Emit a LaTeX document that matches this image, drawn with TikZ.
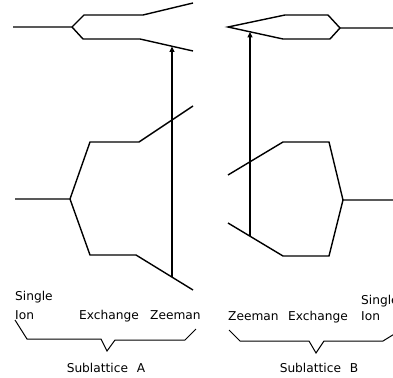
\documentclass[tikz,border=0pt]{standalone}
\usepackage{fontspec}
\setmainfont{DejaVu Sans}
\usetikzlibrary{arrows.meta}
\begin{document}
\begin{tikzpicture}[x=1pt,y=-1pt,
  level/.style={line width=1.4pt, line join=miter},
  transition/.style={line width=1.1pt, -{Triangle[length=5.5pt,width=5pt]}},
  bracket/.style={line width=1pt, line join=miter},
  lbl/.style={anchor=base west, inner sep=0pt, font=\fontsize{12.2}{14}\selectfont},
  sub/.style={anchor=base, inner sep=0pt, font=\fontsize{12.2}{14}\selectfont}]
\useasboundingbox (0,0) rectangle (393,377);
\clip (0,0) rectangle (393,377);

% ---- Sublattice A: upper multiplet
\coordinate (a0) at (13,27);
\coordinate (a1) at (72,27);
\coordinate (a2) at (84,15);
\coordinate (a3) at (143,15);
\coordinate (a4) at (193,3);
\coordinate (a5) at (83,39);
\coordinate (a6) at (140,39);
\coordinate (a7) at (193,51);
\draw[level] (a0) -- (a1) -- (a2) -- (a3) -- (a4);
\draw[level] (a1) -- (a5) -- (a6) -- (a7);

% ---- Sublattice A: lower multiplet
\coordinate (b0) at (15,199);
\coordinate (b1) at (70,199);
\coordinate (b2) at (90,142);
\coordinate (b3) at (139,142);
\coordinate (b4) at (193,106);
\coordinate (b5) at (90,255);
\coordinate (b6) at (136,255);
\coordinate (b7) at (193,290);
\draw[level] (b0) -- (b1) -- (b2) -- (b3) -- (b4);
\draw[level] (b1) -- (b5) -- (b6) -- (b7);

% transition on sublattice A
\coordinate (ta0) at (172,276.5);
\coordinate (ta1) at (172,46.5);
\draw[transition] (ta0) -- (ta1);

% ---- Sublattice B: upper multiplet
\coordinate (c0) at (395,28);
\coordinate (c1) at (340,28);
\coordinate (c2) at (328,15);
\coordinate (c3) at (285,15);
\coordinate (c4) at (228,27);
\coordinate (c5) at (330,39);
\coordinate (c6) at (283,39);
\draw[level] (c0) -- (c1) -- (c2) -- (c3) -- (c4) -- (c6) -- (c5) -- (c1);

% ---- Sublattice B: lower multiplet
\coordinate (d0) at (395,200);
\coordinate (d1) at (343,200);
\coordinate (d2) at (329,142);
\coordinate (d3) at (283,142);
\coordinate (d4) at (228,175);
\coordinate (d5) at (329,256);
\coordinate (d6) at (283,256);
\coordinate (d7) at (228,223);
\draw[level] (d0) -- (d1) -- (d2) -- (d3) -- (d4);
\draw[level] (d1) -- (d5) -- (d6) -- (d7);

% transition on sublattice B
\coordinate (tb0) at (250,236.2);
\coordinate (tb1) at (250,32);
\draw[transition] (tb0) -- (tb1);

% ---- interaction labels
\node[lbl] (sA) at (15,300) {Single};
\node[lbl] (iA) at (15,319) {Ion};
\node[lbl] (eA) at (79,319) {Exchange};
\node[lbl] (zA) at (150,319) {Zeeman};

\node[lbl] (zB) at (228,320) {Zeeman};
\node[lbl] (eB) at (288,320) {Exchange};
\node[lbl] (sB) at (361,304) {Single};
\node[lbl] (iB) at (361,320) {Ion};

% ---- brackets
\coordinate (p0) at (15,320);
\coordinate (p1) at (27,339);
\coordinate (p2) at (101,339);
\coordinate (p3) at (107,351);
\coordinate (p4) at (115,340);
\coordinate (p5) at (185,340);
\coordinate (p6) at (196,329);
\draw[bracket] (p0) -- (p1) -- (p2) -- (p3) -- (p4) -- (p5) -- (p6);

\coordinate (q0) at (229,330);
\coordinate (q1) at (240,341);
\coordinate (q2) at (309,341);
\coordinate (q3) at (316,353);
\coordinate (q4) at (324,341);
\coordinate (q5) at (383,341);
\coordinate (q6) at (396,333);
\draw[bracket] (q0) -- (q1) -- (q2) -- (q3) -- (q4) -- (q5) -- (q6);

\node[sub] (labA) at (106,372) {Sublattice\hspace{5pt} A};
\node[sub] (labB) at (319,372) {Sublattice\hspace{5pt} B};
\end{tikzpicture}
\end{document}
